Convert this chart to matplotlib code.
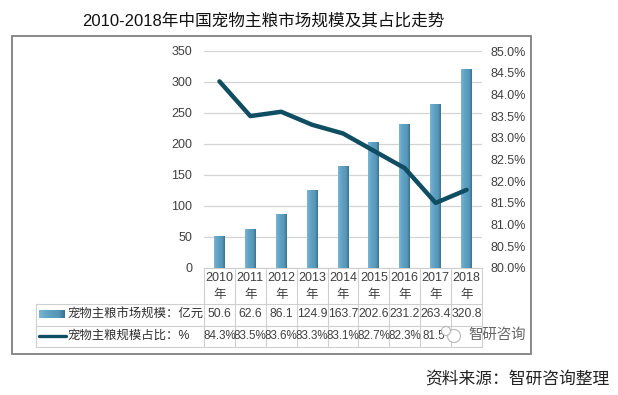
import numpy as np
import matplotlib
matplotlib.use("Agg")
import matplotlib.pyplot as plt
from matplotlib.colors import LinearSegmentedColormap
from matplotlib.patches import Rectangle, Circle

plt.rcParams['font.family'] = ['Liberation Sans', 'Noto Sans CJK SC', 'DejaVu Sans']

years = ['2010', '2011', '2012', '2013', '2014', '2015', '2016', '2017', '2018']
market_size = [50.6, 62.6, 86.1, 124.9, 163.7, 202.6, 231.2, 263.4, 320.8]
share = [84.3, 83.5, 83.6, 83.3, 83.1, 82.7, 82.3, 81.5, 81.8]
size_labels = ['50.6', '62.6', '86.1', '124.9', '163.7', '202.6', '231.2', '263.4', '320.8']
share_labels = ['84.3%', '83.5%', '83.6%', '83.3%', '83.1%', '82.7%', '82.3%', '81.5%', '81.8%']
left_ticks = [0, 50, 100, 150, 200, 250, 300, 350]
right_ticks = [80.0, 80.5, 81.0, 81.5, 82.0, 82.5, 83.0, 83.5, 84.0, 84.5, 85.0]

W, H = 618, 395
TEXT = '#404040'
GRID = '#d4d4d4'
LINE = '#0f4d63'
bar_cmap = LinearSegmentedColormap.from_list(
    'bar', ['#7ab4d2', '#66a6c8', '#5c9cbe', '#5797b8', '#3a7391'])

fig = plt.figure(figsize=(W / 100, H / 100), dpi=100)

# 背景层：外框、表格，全部按像素坐标
bg = fig.add_axes([0, 0, 1, 1])
bg.set_xlim(0, W)
bg.set_ylim(H, 0)
bg.axis('off')
bg.add_patch(Rectangle((12, 36), 519, 318, fc='white', ec='#808080', lw=1.3))

# 主图
L, R, T, B = 204, 482, 51, 268
ax = fig.add_axes([L / W, 1 - B / H, (R - L) / W, (B - T) / H])
ax.patch.set_alpha(0)
x = np.arange(len(years))

grad = np.linspace(0, 1, 32).reshape(1, -1)
bar_w = 0.35
for xi, v in zip(x, market_size):
    ax.imshow(grad, cmap=bar_cmap, aspect='auto', zorder=2,
              extent=(xi - bar_w / 2, xi + bar_w / 2, 0, v))
ax.set_xlim(-0.5, len(years) - 0.5)
ax.set_ylim(0, 350)

ax.set_yticks(left_ticks)
ax.set_xticks([])
ax.grid(axis='y', color=GRID, lw=0.9, zorder=0)
ax.set_axisbelow(True)
ax.tick_params(axis='y', length=0, labelsize=9, labelcolor=TEXT, pad=8.5)
for s in ax.spines.values():
    s.set_visible(False)

ax2 = ax.twinx()
ax2.plot(x, share, color=LINE, lw=3.2, solid_capstyle='round', solid_joinstyle='round', zorder=5)
ax2.set_ylim(80, 85)
ax2.set_yticks(right_ticks)
ax2.set_yticklabels([f'{t:.1f}%' for t in right_ticks])
ax2.tick_params(axis='y', length=0, labelsize=9, labelcolor=TEXT, pad=6)
for s in ax2.spines.values():
    s.set_visible(False)

# 数据表
cw = (R - L) / len(years)
y0, y1, y2, y3 = 268, 304, 326, 347
TL = 36
tc = '#cfcfcf'
bg.plot([L, R], [y0, y0], color=tc, lw=0.8)
bg.plot([L, L], [y0, y3], color=tc, lw=0.8)
for yy in (y1, y2, y3):
    bg.plot([TL, R], [yy, yy], color=tc, lw=0.8)
bg.plot([TL, TL], [y1, y3], color=tc, lw=0.8)
for i in range(1, len(years) + 1):
    bg.plot([L + i * cw] * 2, [y0, y3], color=tc, lw=0.8)

for i, yr in enumerate(years):
    cx = L + (i + 0.5) * cw
    bg.text(cx, 278, yr, ha='center', va='center', fontsize=9, color=TEXT)
    bg.text(cx, 295, '年', ha='center', va='center', fontsize=9, color=TEXT)
    bg.text(cx, 314, size_labels[i], ha='center', va='center', fontsize=8.8, color=TEXT)
    if i < 7:
        bg.text(cx, 336, share_labels[i], ha='center', va='center', fontsize=8.4, color=TEXT)
bg.text(L + 7.5 * cw - 13, 336, '81.5', ha='left', va='center', fontsize=8.4, color=TEXT)

# 图例键
bg.imshow(grad, cmap=bar_cmap, aspect='auto', extent=(39, 65, 318, 310), zorder=3)
bg.set_xlim(0, W)
bg.set_ylim(H, 0)
bg.plot([39, 66], [335.5, 335.5], color=LINE, lw=2.4, solid_capstyle='round')
bg.text(67, 315, '宠物主粮市场规模：亿元', ha='left', va='center', fontsize=8.9,
        color='#303030', fontweight='medium')
bg.text(67, 336, '宠物主粮规模占比：%', ha='left', va='center', fontsize=8.9,
        color='#303030', fontweight='medium')

# 标题、来源、水印
bg.text(263.5, 21, '2010-2018年中国宠物主粮市场规模及其占比走势', ha='center', va='center',
        fontsize=12, color='#111111')
bg.text(609, 379, '资料来源：智研咨询整理', ha='right', va='center', fontsize=12.1, color='#222222')
bg.add_patch(Circle((454, 336), 6.5, fc='white', ec='#b5b5b5', lw=0.9, alpha=0.9, zorder=4))
bg.add_patch(Circle((446, 331), 4.5, fc='white', ec='#b5b5b5', lw=0.9, alpha=0.9, zorder=4))
bg.text(468, 335, '智研咨询', ha='left', va='center', fontsize=10.4, color='#666666', zorder=5)

fig.savefig('out.png', dpi=100)
